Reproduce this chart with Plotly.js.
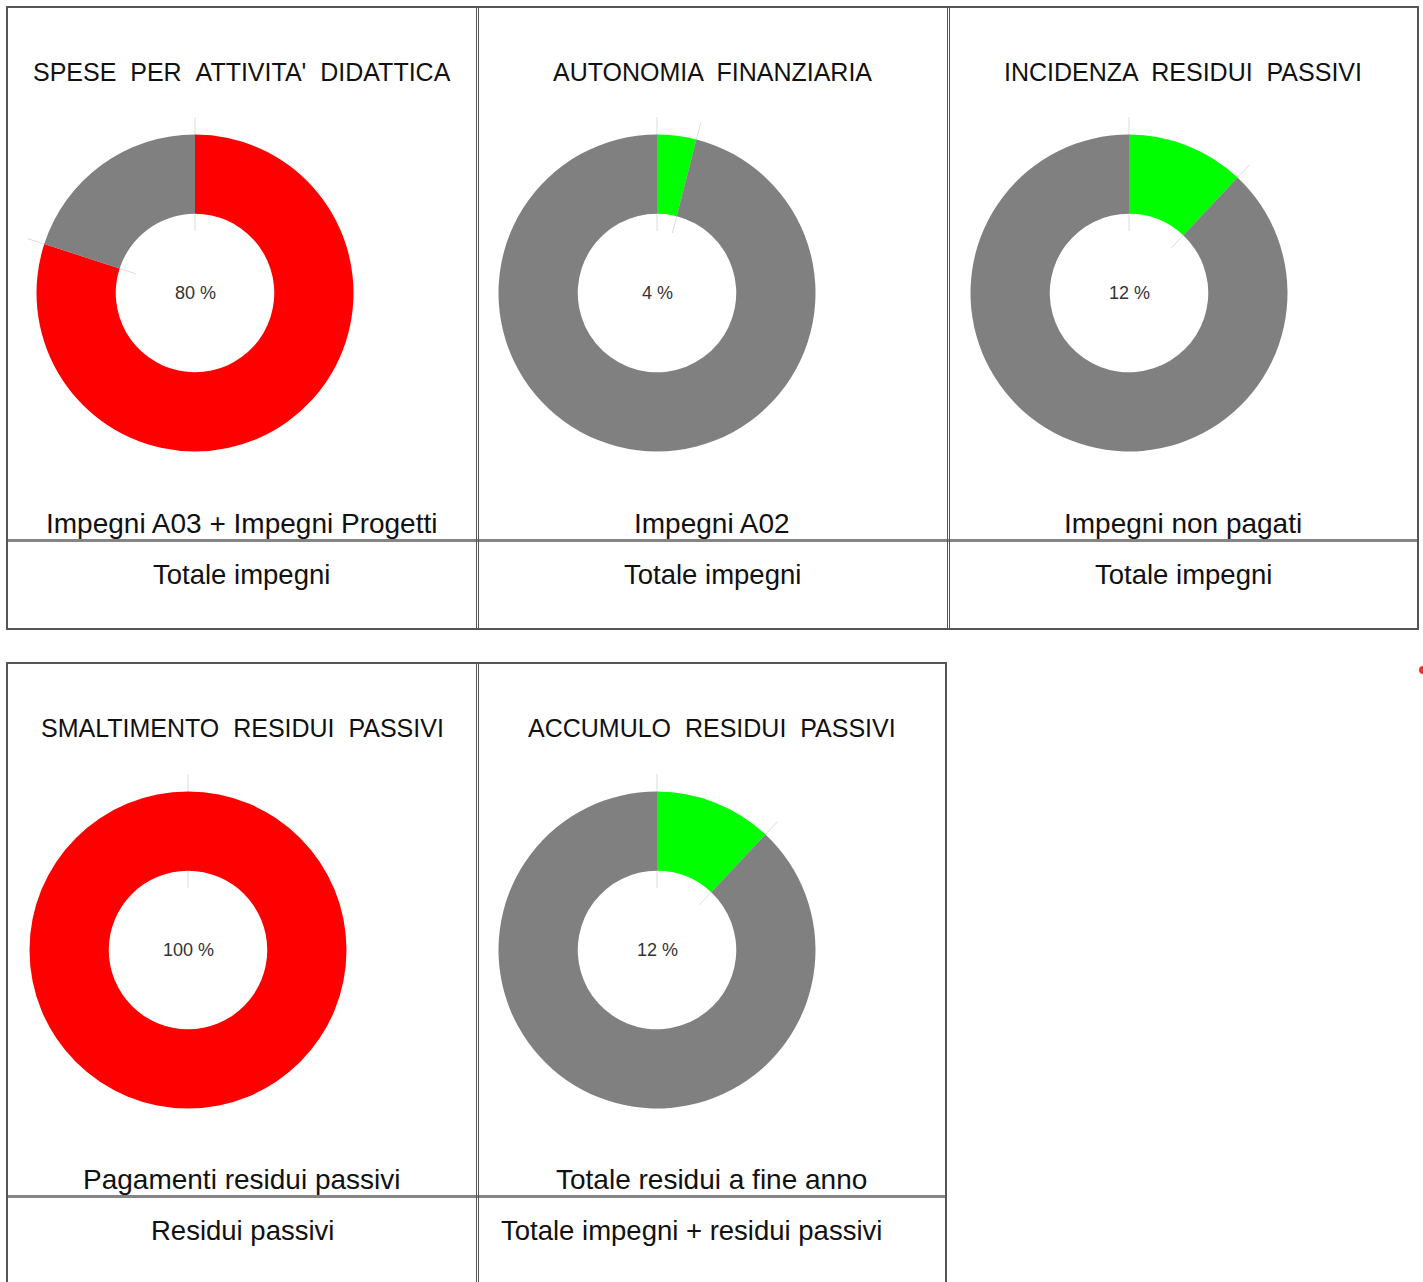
<!DOCTYPE html>
<html>
<head>
<meta charset="utf-8">
<script src="https://cdn.plot.ly/plotly-3.0.1.min.js"></script>
<style>
  html, body { margin: 0; padding: 0; background: #ffffff; }
  #chart { width: 1423px; height: 1282px; }
</style>
</head>
<body>
<div id="chart"></div>
<script>
// ---------------- DATA ----------------
const titles = [
  "SPESE PER ATTIVITA' DIDATTICA",
  "AUTONOMIA FINANZIARIA",
  "INCIDENZA RESIDUI PASSIVI",
  "SMALTIMENTO RESIDUI PASSIVI",
  "ACCUMULO RESIDUI PASSIVI"
];
const numerators = [
  "Impegni A03 + Impegni Progetti",
  "Impegni A02",
  "Impegni non pagati",
  "Pagamenti residui passivi",
  "Totale residui a fine anno"
];
const denominators = [
  "Totale impegni",
  "Totale impegni",
  "Totale impegni",
  "Residui passivi",
  "Totale impegni + residui passivi"
];
const percentages = [80, 4, 12, 100, 12];

// ---------------- STYLE / LAYOUT ----------------
const W = 1423, H = 1282;
const mainColors = ["#ff0000", "#00ff00", "#00ff00", "#ff0000", "#00ff00"];
const restColor = "#808080";
// cell geometry in pixels
const cells = [
  {x0: 7,   x1: 476,  top: 7,   cx: 195,  cy: 293, denomX: 241.5},
  {x0: 477, x1: 947,  top: 7,   cx: 657,  cy: 293, denomX: 712},
  {x0: 948, x1: 1418, top: 7,   cx: 1129, cy: 293, denomX: 1183},
  {x0: 7,   x1: 477,  top: 663, cx: 188,  cy: 950, denomX: 242},
  {x0: 477, x1: 946,  top: 663, cx: 657,  cy: 950, denomX: 691}
];
const R = 158.5;
const px = x => x / W;
const py = y => 1 - y / H;
const fontFamily = "'Liberation Sans', Arial, Helvetica, sans-serif";
const spaced = s => s.split(" ").join(" \u00a0");

const traces = [];
const annotations = [];
const shapes = [];

percentages.forEach((p, i) => {
  const c = cells[i];
  traces.push({
    type: "pie",
    values: [p, 100 - p],
    labels: ["a", "b"],
    marker: {colors: [mainColors[i], restColor], line: {width: 0}},
    hole: 0.5,
    sort: false,
    direction: "clockwise",
    rotation: 0,
    textinfo: "none",
    hoverinfo: "skip",
    showlegend: false,
    domain: {x: [px(c.cx - R), px(c.cx + R)], y: [py(c.cy + R), py(c.cy - R)]}
  });
  // center percent
  annotations.push({
    xref: "paper", yref: "paper", x: px(c.cx), y: py(c.cy),
    text: p + " %", showarrow: false, xanchor: "center", yanchor: "middle",
    font: {family: fontFamily, size: 18, color: "#333333"}
  });
  const mid = (c.x0 + c.x1) / 2;
  // title
  annotations.push({
    xref: "paper", yref: "paper", x: px(mid), y: py(c.top + 65),
    text: spaced(titles[i]), showarrow: false, xanchor: "center", yanchor: "middle",
    font: {family: fontFamily, size: 25, color: "#111111"}
  });
  annotations.push({
    xref: "paper", yref: "paper", x: px(mid), y: py(c.top + 516),
    text: numerators[i], showarrow: false, xanchor: "center", yanchor: "middle",
    font: {family: fontFamily, size: 28, color: "#111111"}
  });
  annotations.push({
    xref: "paper", yref: "paper", x: px(c.denomX), y: py(c.top + 567),
    text: denominators[i], showarrow: false, xanchor: "center", yanchor: "middle",
    font: {family: fontFamily, size: 27.5, color: "#111111"}
  });
  // faint boundary ticks at slice boundaries, derived from the data
  const angles = [0, p / 100 * 360];
  const uniq = (p % 100 === 0) ? [0] : angles;
  uniq.forEach(a => {
    const rad = a * Math.PI / 180;
    const r1 = 62, r2 = 176;
    const sx = Math.sin(rad), sy = -Math.cos(rad);
    shapes.push({
      type: "line", xref: "paper", yref: "paper", layer: "below",
      x0: px(c.cx + r1 * sx), y0: py(c.cy + r1 * sy),
      x1: px(c.cx + r2 * sx), y1: py(c.cy + r2 * sy),
      line: {color: "#dddddd", width: 1}
    });
  });
});

// table borders
const dark = "#555555";
function rect(x0, y0, x1, y1, w, col) {
  shapes.push({type: "rect", xref: "paper", yref: "paper",
    x0: px(x0), y0: py(y0), x1: px(x1), y1: py(y1),
    line: {color: col, width: w}, fillcolor: "rgba(0,0,0,0)"});
}
function hline(x0, x1, y, w, col) {
  shapes.push({type: "line", xref: "paper", yref: "paper",
    x0: px(x0), y0: py(y), x1: px(x1), y1: py(y), line: {color: col, width: w}});
}
function vline(x, y0, y1, w, col) {
  shapes.push({type: "line", xref: "paper", yref: "paper",
    x0: px(x), y0: py(y0), x1: px(x), y1: py(y1), line: {color: col, width: w}});
}
// top table
hline(7, 1418, 540.5, 3, "#858585");
rect(7, 7, 1418, 629, 2, dark);
vline(476.5, 7, 629, 1, dark); vline(478.5, 7, 629, 1, dark);
vline(947.5, 7, 629, 1, dark); vline(949.5, 7, 629, 1, dark);
// bottom table
hline(7, 946, 1196.5, 3, "#858585");
rect(7, 663, 946, 1290, 2, dark);
vline(476.5, 663, 1290, 1, dark); vline(478.5, 663, 1290, 1, dark);
// small red mark at right edge
shapes.push({type: "circle", xref: "paper", yref: "paper",
  x0: px(1419), y0: py(674), x1: px(1427), y1: py(666),
  fillcolor: "#ee3333", line: {width: 0}});

const layout = {
  width: W, height: H,
  margin: {l: 0, r: 0, t: 0, b: 0},
  paper_bgcolor: "#ffffff",
  plot_bgcolor: "#ffffff",
  showlegend: false,
  annotations: annotations,
  shapes: shapes
};

Plotly.newPlot("chart", traces, layout, {staticPlot: true, displayModeBar: false});
</script>
</body>
</html>
